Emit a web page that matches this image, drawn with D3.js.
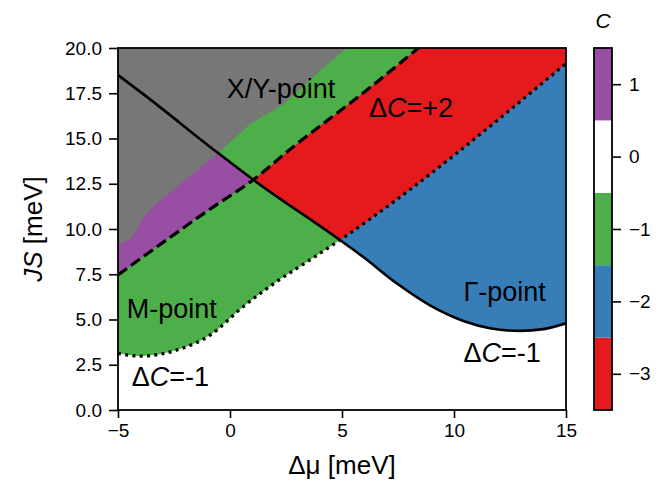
<!DOCTYPE html>
<html>
<head>
<meta charset="utf-8">
<script src="https://cdn.jsdelivr.net/npm/d3@7"></script>
<style>
body { margin: 0; background: #fff; }
text { font-family: "Liberation Sans", Arial, sans-serif; fill: #000; }
</style>
</head>
<body>
<svg id="chart"></svg>
<script>
// phase boundaries, [delta mu, JS]
const solidLine = [[-5, 18.5], [-3.87, 17.45], [-0.59, 14.25], [1.04, 12.72], [4.91, 9.39], [5.95, 8.45], [7.44, 7.0], [8.93, 5.78], [10.42, 4.92], [11.61, 4.52], [12.95, 4.37], [13.99, 4.47], [15, 4.79]]
const dashedLine = [[-5, 7.46], [-2.38, 9.8], [-0.89, 11.1], [1.04, 12.72], [2.98, 14.7], [4.46, 16.1], [5.36, 16.95], [8.41, 20]]
const dottedLine = [[-5, 3.13], [-4.02, 2.98], [-2.38, 3.31], [-0.89, 4.14], [0.59, 5.71], [2.08, 7.09], [3.57, 8.29], [4.91, 9.39], [15, 19.15]]
const grayEdge = [[-5, 9.1], [-4.4, 9.5], [-3.9, 10.6], [-3.3, 11.4], [-2.2, 12.5], [-1.4, 13.3], [-0.6, 14.1], [0.9, 15.8], [2.4, 16.9], [3.9, 18.6], [5.2, 20]]

// colorbar
const cLevels = [-3, -2, -1, 0, 1]
const cColors = ["#e41a1c", "#377eb8", "#4daf4a", "#ffffff", "#984ea3"]
const grayColor = "#777777"

const muTicks = [-5, 0, 5, 10, 15]
const jsTicks = [0, 2.5, 5, 7.5, 10, 12.5, 15, 17.5, 20]

const svgWidth = 670
const svgHeight = 487
const margin = { top: 48, left: 118 }
const width = 448
const height = 362

let svg = d3.select("#chart")
	.attr("width", svgWidth)
	.attr("height", svgHeight)

let x = d3.scaleLinear().domain([-5, 15]).range([margin.left, margin.left + width])
let y = d3.scaleLinear().domain([0, 20]).range([margin.top + height, margin.top])

let defs = svg.append("defs")
defs.append("clipPath").attr("id", "plotClip")
	.append("rect")
	.attr("x", x(-5)).attr("y", y(20))
	.attr("width", width).attr("height", height)

// area above / below a boundary
let areaAbove = d3.area().x(d => x(d[0])).y0(d => y(d[1])).y1(y(20)).curve(d3.curveMonotoneX)
let areaBelow = d3.area().x(d => x(d[0])).y0(y(0)).y1(d => y(d[1])).curve(d3.curveMonotoneX)
let areaAboveLin = d3.area().x(d => x(d[0])).y0(d => y(d[1])).y1(y(20))
let lineGen = d3.line().x(d => x(d[0])).y(d => y(d[1])).curve(d3.curveMonotoneX)

defs.append("clipPath").attr("id", "aboveS").append("path").attr("d", areaAbove(solidLine))
defs.append("clipPath").attr("id", "belowS").append("path").attr("d", areaBelow(solidLine))

let plot = svg.append("g").attr("clip-path", "url(#plotClip)")

plot.append("rect")
	.attr("x", x(-5)).attr("y", y(20))
	.attr("width", width).attr("height", height)
	.attr("fill", "#fff")

// upper side of the solid line
let up = plot.append("g").attr("clip-path", "url(#aboveS)")
up.append("path").attr("d", areaAbove(solidLine)).attr("fill", cColors[1])
up.append("path").attr("d", areaAbove(dottedLine)).attr("fill", cColors[0])
up.append("path").attr("d", areaAbove(dashedLine)).attr("fill", cColors[2])
up.append("path").attr("d", areaAboveLin(grayEdge)).attr("fill", grayColor)

// lower side of the solid line
let down = plot.append("g").attr("clip-path", "url(#belowS)")
down.append("path").attr("d", areaAbove(dottedLine)).attr("fill", cColors[2])
down.append("path").attr("d", areaAbove(dashedLine)).attr("fill", cColors[4])
down.append("path").attr("d", areaAboveLin(grayEdge)).attr("fill", grayColor)

// boundary lines
plot.append("path").attr("d", lineGen(dashedLine))
	.attr("fill", "none").attr("stroke", "#000").attr("stroke-width", 3.2)
	.attr("stroke-dasharray", "11,5")
plot.append("path").attr("d", lineGen(dottedLine))
	.attr("fill", "none").attr("stroke", "#000").attr("stroke-width", 3.2)
	.attr("stroke-dasharray", "3,4.3")
plot.append("path").attr("d", lineGen(solidLine))
	.attr("fill", "none").attr("stroke", "#000").attr("stroke-width", 2.6)

// annotations
function label(mu, js, parts) {
	let t = svg.append("text")
		.attr("x", x(mu)).attr("y", y(js))
		.attr("font-size", 27)
	parts.forEach(p => {
		t.append("tspan").attr("font-style", p[1] ? "italic" : "normal").text(p[0])
	})
}
label(-0.15, 17.24, [["X/Y-point"]])
label(6.2, 16.2, [["\u0394"], ["C", 1], ["=+2"]])
label(-4.61, 5.08, [["M-point"]])
label(-4.39, 1.33, [["\u0394"], ["C", 1], ["=-1"]])
label(10.42, 6.02, [["\u0393-point"]])
label(10.42, 2.65, [["\u0394"], ["C", 1], ["=-1"]])

// axes
let xAxis = svg.append("g")
	.attr("transform", `translate(0, ${y(0)})`)
	.call(d3.axisBottom(x).tickValues(muTicks).tickSize(8).tickPadding(6))
let yAxis = svg.append("g")
	.attr("transform", `translate(${x(-5)}, 0)`)
	.call(d3.axisLeft(y).tickValues(jsTicks).tickFormat(d3.format(".1f")).tickSize(9).tickPadding(7))

;[xAxis, yAxis].forEach(a => {
	a.select(".domain").remove()
	a.selectAll("line").attr("stroke", "#000").attr("stroke-width", 1.6)
	a.selectAll("text").attr("font-size", 19).attr("font-family", "Liberation Sans, Arial, sans-serif")
})

// frame
svg.append("rect")
	.attr("x", x(-5)).attr("y", y(20))
	.attr("width", width).attr("height", height)
	.attr("fill", "none").attr("stroke", "#000").attr("stroke-width", 1.8)

// axis titles
let xt = svg.append("text")
	.attr("x", x(5)).attr("y", 474)
	.attr("text-anchor", "middle").attr("font-size", 26)
xt.append("tspan").text("\u0394\u03bc [meV]")

let yt = svg.append("text")
	.attr("transform", `translate(42, ${y(10)}) rotate(-90)`)
	.attr("text-anchor", "middle").attr("font-size", 26)
yt.append("tspan").attr("font-style", "italic").text("JS")
yt.append("tspan").text(" [meV]")

// colorbar
let cbX = 594
let cbW = 18
let cy = d3.scaleLinear().domain([-3.5, 1.5]).range([y(0), y(20)])

let cb = svg.append("g")
cb.selectAll("rect.bin")
	.data(cLevels)
	.enter()
	.append("rect")
	.attr("class", "bin")
	.attr("x", cbX)
	.attr("y", d => cy(d + 0.5))
	.attr("width", cbW)
	.attr("height", d => cy(d - 0.5) - cy(d + 0.5))
	.attr("fill", (d, i) => cColors[i])

cb.append("rect")
	.attr("x", cbX).attr("y", cy(1.5))
	.attr("width", cbW).attr("height", cy(-3.5) - cy(1.5))
	.attr("fill", "none").attr("stroke", "#000").attr("stroke-width", 1.8)

let cAxis = cb.append("g")
	.attr("transform", `translate(${cbX + cbW}, 0)`)
	.call(d3.axisRight(cy).tickValues(cLevels).tickFormat(d3.format("d")).tickSize(9).tickPadding(8))
cAxis.select(".domain").remove()
cAxis.selectAll("line").attr("stroke", "#000").attr("stroke-width", 1.6)
cAxis.selectAll("text").attr("font-size", 19).attr("font-family", "Liberation Sans, Arial, sans-serif")

svg.append("text")
	.attr("x", cbX + cbW / 2).attr("y", 28)
	.attr("text-anchor", "middle").attr("font-size", 21).attr("font-style", "italic")
	.text("C")
</script>
</body>
</html>
